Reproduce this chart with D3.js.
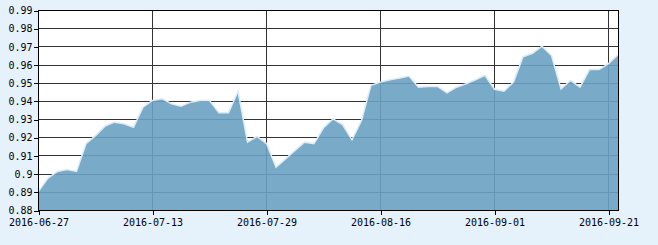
<!DOCTYPE html>
<html>
<head>
<meta charset="utf-8">
<script src="https://cdn.jsdelivr.net/npm/d3@7"></script>
<style>
  html, body { margin: 0; padding: 0; background: #e6f2fb; }
  #chart { width: 658px; height: 245px; }
  text { font-family: "DejaVu Sans Mono", "Liberation Mono", monospace; font-size: 10px; fill: #000; }
</style>
</head>
<body>
<div id="chart"></div>
<script>
// trading days (category axis)
var dates = [
  "2016-06-27","2016-06-28","2016-06-29","2016-06-30","2016-07-01",
  "2016-07-04","2016-07-05","2016-07-06","2016-07-07","2016-07-08",
  "2016-07-11","2016-07-12","2016-07-13","2016-07-14","2016-07-15",
  "2016-07-18","2016-07-19","2016-07-20","2016-07-21","2016-07-22",
  "2016-07-25","2016-07-26","2016-07-27","2016-07-28","2016-07-29",
  "2016-08-01","2016-08-02","2016-08-03","2016-08-04","2016-08-05",
  "2016-08-08","2016-08-09","2016-08-10","2016-08-11","2016-08-12",
  "2016-08-15","2016-08-16","2016-08-17","2016-08-18","2016-08-19",
  "2016-08-22","2016-08-23","2016-08-24","2016-08-25","2016-08-26",
  "2016-08-29","2016-08-30","2016-08-31","2016-09-01","2016-09-02",
  "2016-09-05","2016-09-06","2016-09-07","2016-09-08","2016-09-09",
  "2016-09-12","2016-09-13","2016-09-14","2016-09-19","2016-09-20",
  "2016-09-21","2016-09-22"
];

var values = [
  0.8905, 0.8978, 0.9015, 0.9025, 0.9015,
  0.9167, 0.9212, 0.9264, 0.9286, 0.9277,
  0.9258, 0.9368, 0.9405, 0.9415, 0.9387,
  0.9374, 0.9396, 0.9405, 0.9405, 0.9337,
  0.9337, 0.9456, 0.9176, 0.9207, 0.9168,
  0.9038, 0.9084, 0.9130, 0.9176, 0.9167,
  0.9255, 0.9304, 0.9273, 0.9189, 0.9295,
  0.9488, 0.9506, 0.9519, 0.9528, 0.9539,
  0.9478, 0.9482, 0.9482, 0.9447, 0.9478,
  0.9497, 0.9519, 0.9543, 0.9467, 0.9456,
  0.9506, 0.9646, 0.9665, 0.9704, 0.9652,
  0.9469, 0.9515, 0.9478, 0.9575, 0.9575,
  0.9608, 0.9657
];

var yTicks = [0.88, 0.89, 0.90, 0.91, 0.92, 0.93, 0.94, 0.95, 0.96, 0.97, 0.98, 0.99];
var xTicks = ["2016-06-27", "2016-07-13", "2016-07-29", "2016-08-16", "2016-09-01", "2016-09-21"];

var data = dates.map(function(d, i) { return {date: d, value: values[i]}; });

var width = 658, height = 245;
var plotLeft = 38.5, plotRight = 618, plotTop = 10.5, plotBottom = 210.5;

var svg = d3.select("#chart")
  .append("svg")
    .attr("width", width)
    .attr("height", height);

var x = d3.scalePoint()
  .domain(dates)
  .range([plotLeft, plotRight]);

var y = d3.scaleLinear()
  .domain([0.88, 0.99])
  .range([plotBottom, plotTop]);

function crisp(v) { return Math.round(v - 0.5) + 0.5; }

// plot background
svg.append("rect")
  .attr("x", plotLeft)
  .attr("y", plotTop)
  .attr("width", plotRight + 0.5 - plotLeft)
  .attr("height", plotBottom - plotTop)
  .attr("fill", "#fff");

// grid
svg.append("g")
  .selectAll("line")
  .data(yTicks)
  .enter()
  .append("line")
    .attr("x1", plotLeft)
    .attr("x2", plotRight + 0.5)
    .attr("y1", function(d) { return crisp(y(d)); })
    .attr("y2", function(d) { return crisp(y(d)); })
    .attr("stroke", "#333")
    .attr("shape-rendering", "crispEdges");

svg.append("g")
  .selectAll("line")
  .data(xTicks)
  .enter()
  .append("line")
    .attr("x1", function(d) { return crisp(x(d)); })
    .attr("x2", function(d) { return crisp(x(d)); })
    .attr("y1", plotTop)
    .attr("y2", plotBottom)
    .attr("stroke", "#333")
    .attr("shape-rendering", "crispEdges");

// area
var area = d3.area()
  .x(function(d) { return x(d.date); })
  .y0(plotBottom)
  .y1(function(d) { return y(d.value); });

svg.append("path")
  .datum(data)
  .attr("d", area)
  .attr("fill", "rgb(106,162,195)")
  .attr("fill-opacity", 0.9);

var line = d3.line()
  .x(function(d) { return x(d.date); })
  .y(function(d) { return y(d.value); });

svg.append("path")
  .datum(data)
  .attr("d", line)
  .attr("fill", "none")
  .attr("stroke", "#d8ecf9")
  .attr("stroke-width", 1.5);

// frame
svg.append("rect")
  .attr("x", plotLeft)
  .attr("y", plotTop)
  .attr("width", plotRight + 0.5 - plotLeft)
  .attr("height", plotBottom - plotTop)
  .attr("fill", "none")
  .attr("stroke", "#000")
  .attr("shape-rendering", "crispEdges");

// axes
var yAxis = svg.append("g")
  .attr("transform", "translate(" + plotLeft + ",0)")
  .call(d3.axisLeft(y)
    .tickValues(yTicks)
    .tickSize(5)
    .tickPadding(1)
    .tickFormat(d3.format("~r")));

var xAxis = svg.append("g")
  .attr("transform", "translate(0," + plotBottom + ")")
  .call(d3.axisBottom(x)
    .tickValues(xTicks)
    .tickSize(4)
    .tickPadding(4));

[yAxis, xAxis].forEach(function(g) {
  g.select(".domain").remove();
  g.selectAll(".tick line").attr("stroke", "#000").attr("shape-rendering", "crispEdges");
  g.selectAll("text")
    .attr("font-family", null)
    .attr("font-size", null)
    .attr("fill", "#000");
});
</script>
</body>
</html>
